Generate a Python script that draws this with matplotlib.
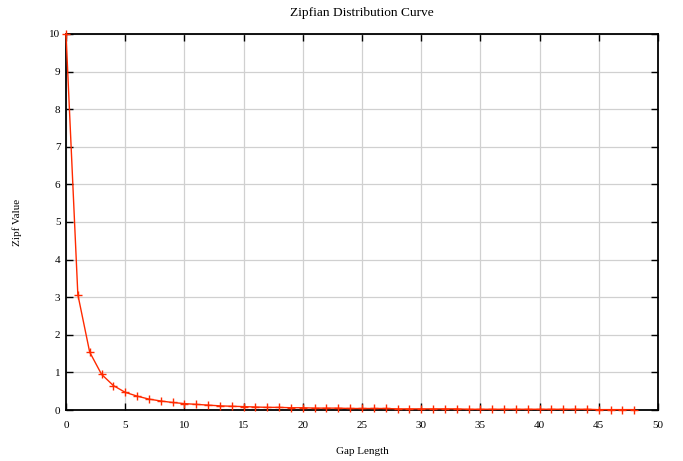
import matplotlib
matplotlib.use("Agg")
from matplotlib import pyplot as plt

# gap length vs zipf value
gap_length = list(range(49))
zipf_value = [10.0, 3.07, 1.54, 0.95, 0.65, 0.47, 0.37, 0.29, 0.24, 0.20,
              0.17, 0.15, 0.13, 0.11, 0.10, 0.09, 0.08, 0.07, 0.07, 0.06,
              0.06, 0.05, 0.05, 0.05, 0.04, 0.04, 0.04, 0.04, 0.03, 0.03,
              0.03, 0.03, 0.03, 0.03, 0.02, 0.02, 0.02, 0.02, 0.02, 0.02,
              0.02, 0.02, 0.02, 0.02, 0.02, 0.01, 0.01, 0.01, 0.01]
x_ticks = [0, 5, 10, 15, 20, 25, 30, 35, 40, 45, 50]
y_ticks = [0, 1, 2, 3, 4, 5, 6, 7, 8, 9, 10]

plt.rcParams['font.family'] = ['Liberation Serif', 'DejaVu Serif']
plt.rcParams['font.size'] = 8

fig = plt.figure(figsize=(6.83, 4.61), dpi=100)
ax = fig.add_axes([66 / 683, 1 - 410 / 461, 592 / 683, 376 / 461])

# line sits on top of the frame like in gnuplot
ax.plot(gap_length, zipf_value, color='#ff2a00', linewidth=1.0,
        marker='+', markersize=6, markeredgewidth=1.0,
        clip_on=False, zorder=3)

ax.set_xlim(0, 50)
ax.set_ylim(0, 10)
ax.set_xticks(x_ticks)
ax.set_yticks(y_ticks)
ax.grid(True, color='#d0d0d0', linewidth=0.9)
ax.set_axisbelow(True)
ax.tick_params(direction='in', top=True, right=True, length=5, width=1)
ax.tick_params(axis='x', pad=8)
ax.tick_params(axis='y', pad=4)
for s in ax.spines.values():
    s.set_linewidth(1.3)

ax.set_title('Zipfian Distribution Curve', pad=13)
ax.set_xlabel('Gap Length', labelpad=12)
ax.set_ylabel('Zipf Value', labelpad=20)

fig.savefig('out.png', dpi=100)
